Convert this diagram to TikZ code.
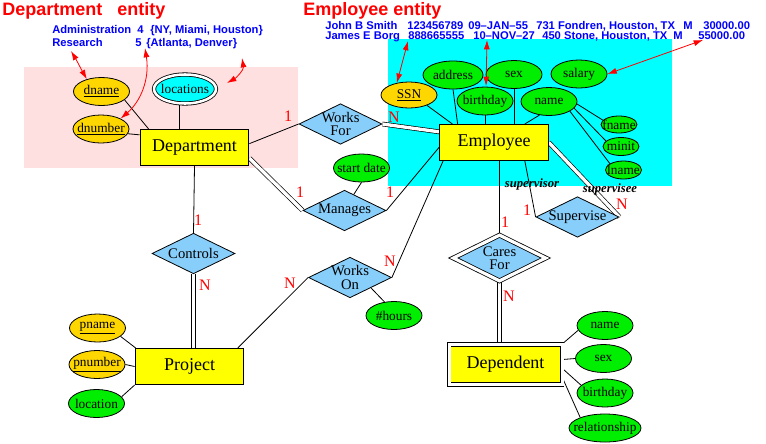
\documentclass[tikz,border=0pt]{standalone}
\usepackage{fontspec}
\setmainfont{Liberation Serif}
\setsansfont{Liberation Sans}
\usetikzlibrary{arrows.meta,shapes.geometric,backgrounds}
\definecolor{entyellow}{HTML}{FFFF00}
\definecolor{relblue}{HTML}{87CEFA}
\definecolor{keygold}{HTML}{FFD700}
\definecolor{attgreen}{HTML}{00EE00}
\definecolor{multicyan}{HTML}{00FFFF}
\definecolor{deptpink}{HTML}{FFE0E0}
\definecolor{cardred}{HTML}{FF0000}
\definecolor{rowblue}{HTML}{0000FF}
\newcommand{\zw}[1]{\makebox[0pt]{#1}}
\tikzset{
  every node/.style={inner sep=0pt},
  ent/.style={rectangle,draw,line width=.8pt,fill=entyellow,minimum width=81.5pt,minimum height=27pt,font=\rmfamily\fontsize{13.5}{15}\selectfont},
  weakent/.style={ent,line width=.6pt,double,double distance=2.25pt,minimum width=84.75pt,minimum height=30.4pt},
  rel/.style={diamond,draw,line width=.6pt,fill=relblue,minimum width=62.25pt,minimum height=30.4pt},
  identrel/.style={rel,double,double distance=2.4pt,minimum width=69.5pt,minimum height=34.5pt},
  reltxt/.style={font=\rmfamily\fontsize{11}{10}\selectfont,align=center},
  att/.style={ellipse,draw,line width=.6pt,fill=attgreen,minimum width=42pt,minimum height=21pt,font=\rmfamily\fontsize{10}{12}\selectfont},
  keyatt/.style={att,fill=keygold},
  multiatt/.style={att,fill=multicyan,double,double distance=1.9pt,minimum width=46.5pt,minimum height=21.75pt},
  smallatt/.style={att,minimum width=27pt,minimum height=13.5pt},
  card/.style={font=\rmfamily\fontsize{12}{14}\selectfont,text=cardred},
  role/.style={font=\rmfamily\bfseries\itshape\fontsize{9.5}{11}\selectfont},
  title/.style={font=\sffamily\bfseries\fontsize{13.5}{15}\selectfont,text=cardred,anchor=base west},
  row/.style={font=\sffamily\bfseries\fontsize{8.4}{10}\selectfont,text=rowblue,anchor=base west},
  link/.style={line width=.6pt},
  total/.style={line width=.5pt,double,double distance=2.5pt},
  mapto/.style={{Latex[length=7pt,width=4.5pt]}-{Latex[length=7pt,width=4.5pt]},draw=cardred,line width=.6pt},
}

\begin{document}
\begin{tikzpicture}[x=.75pt,y=-.75pt]
\path[use as bounding box] (0,0) rectangle (766,443);
% entity types
\node[ent] (dept) at (194.5,147.5) {Department};
\node[ent] (emp) at (494,142.5) {Employee};
\node[ent] (proj) at (189.5,366.5) {Project};
\node[weakent] (dep) at (505.5,364.5) {Dependent};
% relationship types
\node[rel,label={[reltxt]center:Works\\For}] (wf) at (340.5,124) {};
\node[rel,label={[reltxt]center:Manages}] (mg) at (344.5,210.5) {};
\node[rel,label={[reltxt]center:Works\\On}] (wo) at (350,277.5) {};
\node[rel,label={[reltxt]center:Controls}] (ctl) at (193.5,253.5) {};
\node[rel,label={[reltxt]center:Supervise}] (sup) at (577.5,217) {};
\node[identrel,label={[reltxt]center:Cares\\For}] (cf) at (499.5,258) {};
% attributes
\node[keyatt] (dn) at (101.5,91.5) {\zw{\underline{dname}}};
\node[keyatt] (dnum) at (101,129) {\zw{\underline{dnumber}}};
\node[multiatt] (loc) at (185,89) {\zw{locations}};
\node[keyatt,minimum height=19.5pt] (ssn) at (409,95) {\zw{\underline{SSN}}};
\node[att,minimum width=45pt] (addr) at (453,75) {\zw{address}};
\node[att] (sex) at (514,74.5) {\zw{sex}};
\node[att] (sal) at (579,74) {\zw{salary}};
\node[att] (bday) at (485,101) {\zw{birthday}};
\node[att] (nm) at (549,101.5) {\zw{name}};
\node[smallatt,minimum height=12.75pt] (fn) at (619,124.5) {\zw{fname}};
\node[smallatt] (mi) at (621,146.5) {\zw{minit}};
\node[smallatt] (ln) at (623.5,170) {\zw{lname}};
\node[att] (sd) at (361.5,168) {\zw{start date}};
\node[att] (hrs) at (394,315.5) {\zw{\#hours}};
\node[keyatt] (pn) at (97.5,328) {\zw{\underline{pname}}};
\node[keyatt] (pnum) at (97,364.5) {\zw{\underline{pnumber}}};
\node[att] (ploc) at (96.5,403.5) {\zw{location}};
\node[att] (dnm) at (605,325.5) {\zw{name}};
\node[att] (dsex) at (603.5,358.5) {\zw{sex}};
\node[att] (dbd) at (605,393) {\zw{birthday}};
\node[att,minimum width=54pt] (drel) at (605,428) {\zw{relationship}};
\begin{scope}[on background layer]
\fill[white] (0,0) rectangle (766,443);
\fill[deptpink] (24,67) rectangle (298,168);
\fill[multicyan] (388,39) rectangle (672,186);
\draw[link] (dn.-20) -- (dept.158);
\draw[link] (dnum.-10) -- (dept.167);
\draw[link] (loc.250) -- (loc.250 |- dept.north);
\draw[link] (dept.4) -- (wf.west);
\draw[total] (dept.-11) -- (mg.west);
\draw[link] (dept.south) -- (ctl.north);
\draw[total] (ctl.south) -- (ctl.south |- proj.north);
\draw[link] (proj.21) -- (wo.west);
\draw[link] (wo.east) -- (emp.200);
\draw[link] (mg.east) -- (emp.185);
\draw[total] (wf.east) -- (emp.169);
\draw[link] (mg.60) -- (sd.south);
\draw[link] (wo.south east) -- (hrs.125);
\draw[link] (cf.north) -- (cf.north |- emp.south);
\draw[total] (cf.south) -- (cf.south |- dep.north);
\draw[link] (emp.-31) -- (sup.west);
\draw[total] (emp.east) -- (sup.east);
\draw[link] (ssn.-30) -- (emp.156);
\draw[link] (addr.south) -- (emp.153);
\draw[link] (bday.south) -- (bday.south |- emp.north);
\draw[link] (sex.south) -- (sex.south |- emp.north);
\draw[link] (nm.235) -- (emp.31);
\draw[link] (nm.-5) -- (fn.165);
\draw[link] (nm.-15) -- (mi.160);
\draw[link] (nm.-25) -- (ln.155);
\draw[link] (pn.-20) -- (proj.161);
\draw[link] (pnum.east) -- (proj.west);
\draw[link] (ploc.15) -- (proj.south west);
\draw[link] (dep.north east) -- (dnm.190);
\draw[link] (dep.5) -- (dsex.west);
\draw[link] (dep.-4) -- (dbd.162);
\draw[link] (dep.-13) -- (drel.157);
\end{scope}
% cardinalities and roles
\node[card] (c1) at (288,116) {1};
\node[card] (c2) at (394,117) {N};
\node[card] (c3) at (300,192) {1};
\node[card] (c4) at (390,192) {1};
\node[card] (c5) at (198,220) {1};
\node[card] (c6) at (205,285) {N};
\node[card] (c7) at (290,283) {N};
\node[card] (c8) at (390,261) {N};
\node[card] (c9) at (505,222) {1};
\node[card] (c10) at (509,296) {N};
\node[card] (c11) at (527,210) {1};
\node[card] (c12) at (622,204) {N};
\node[role] (rsor) at (532,184) {supervisor};
\node[role] (rsee) at (610,189) {supervisee};
% sample instances
\node[title] (tdept) at (2,15.5) {Department~~~entity};
\node[title] (temp) at (303,15.5) {Employee entity};
\node[row] (d1a) at (52,33) {Administration};
\node[row] (d1b) at (137,33) {4};
\node[row] (d1c) at (150,33) {\{NY, Miami, Houston\}};
\node[row] (d2a) at (52,46) {Research};
\node[row] (d2b) at (135,46) {5};
\node[row] (d2c) at (146,46) {\{Atlanta, Denver\}};
\node[row] (e1a) at (325,29) {John B Smith};
\node[row] (e1b) at (407,29) {123456789};
\node[row] (e1c) at (468,29) {09--JAN--55};
\node[row] (e1d) at (536,29) {731 Fondren, Houston, TX};
\node[row] (e1e) at (683,29) {M};
\node[row] (e1f) at (703,29) {30000.00};
\node[row] (e2a) at (325,39) {James E Borg};
\node[row] (e2b) at (408,39) {888665555};
\node[row] (e2c) at (473,39) {10--NOV--27};
\node[row] (e2d) at (542,39) {450 Stone, Houston, TX};
\node[row] (e2e) at (673,39) {M};
\node[row] (e2f) at (698,39) {55000.00};
\coordinate (pdn) at (71,51);
\coordinate (pdnum) at (145,48);
\coordinate (ploctop) at (242,58);
\coordinate (plocend) at (227,83);
\coordinate (pssn) at (408,41);
\coordinate (pbd) at (487,40);
\coordinate (pbdend) at (486,86);
\coordinate (psal) at (703,40);
\draw[mapto] (pdn) .. controls (77,61) and (80,67) .. (dn.140);
\draw[mapto] (pdnum) .. controls (150,80) and (140,102) .. (dnum.28);
\draw[mapto] (ploctop) .. controls (244,70) and (236,78) .. (plocend);
\draw[mapto] (pssn) -- (ssn.135);
\draw[mapto] (pbd) -- (pbdend);
\draw[mapto] (psal) -- (sal.east);
\end{tikzpicture}
\end{document}
